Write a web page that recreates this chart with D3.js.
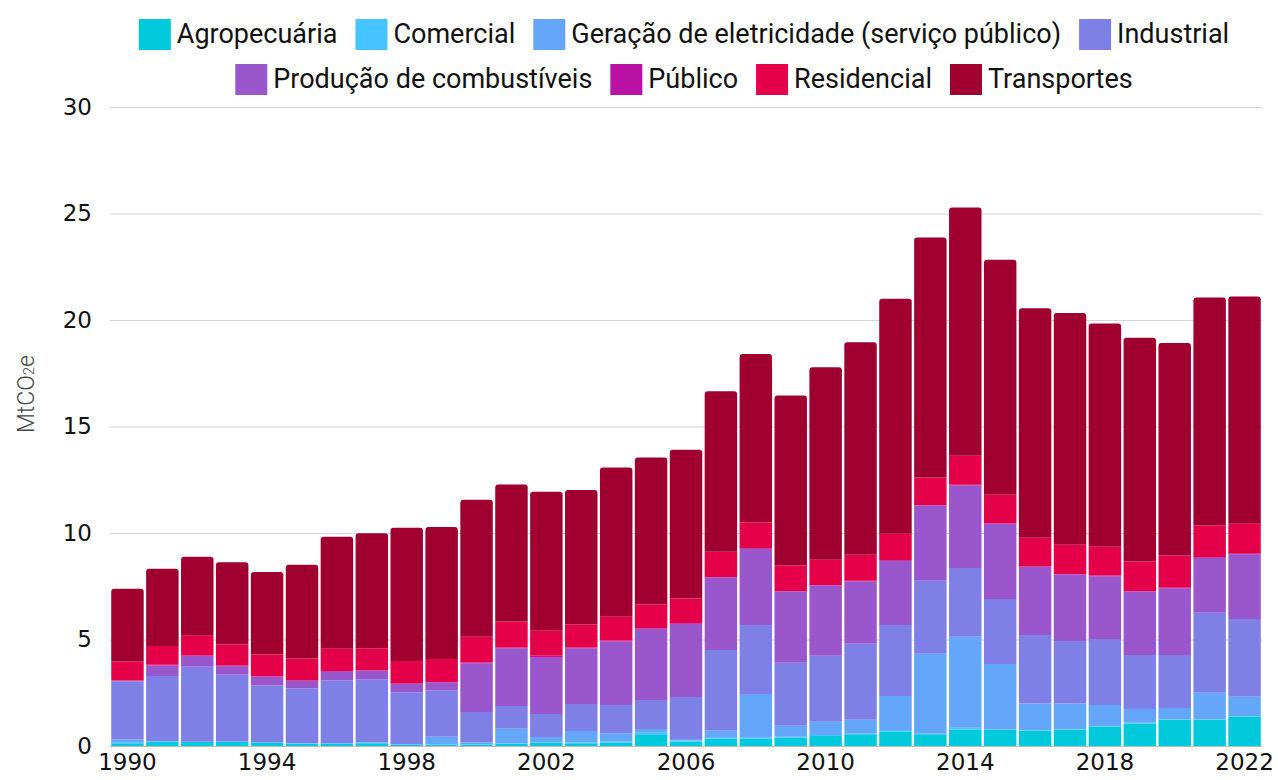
<!DOCTYPE html>
<html>
<head>
<meta charset="utf-8">
<script src="https://cdn.jsdelivr.net/npm/d3@7"></script>
<style>
  body { margin: 0; background: #fff; }
  svg { display: block; }
  .tick text { font-family: "DejaVu Sans", sans-serif; font-size: 23px; fill: #111; }
  .legend text { font-family: "Roboto", sans-serif; font-size: 27px; fill: #111; }
</style>
</head>
<body>
<svg id="chart" width="1278" height="780"></svg>
<script>
// values, MtCO2e
var years = [1990, 1991, 1992, 1993, 1994, 1995, 1996, 1997, 1998, 1999,
    2000, 2001, 2002, 2003, 2004, 2005, 2006, 2007, 2008, 2009,
    2010, 2011, 2012, 2013, 2014, 2015, 2016, 2017, 2018, 2019,
    2020, 2021, 2022];

var tickYears = [1990, 1994, 1998, 2002, 2006, 2010, 2014, 2018, 2022];
var yTicks = [0, 5, 10, 15, 20, 25, 30];

var sectors = ["Agropecuária", "Comercial", "Geração de eletricidade (serviço público)",
    "Industrial", "Produção de combustíveis", "Público", "Residencial", "Transportes"];
var colors = ["#00c9dc", "#45c4ff", "#64a6f8", "#7f80e6", "#9a57cc", "#ba12a4", "#e5004a", "#a00030"];

var agropecuaria = [0.13, 0.20, 0.19, 0.20, 0.14, 0.11, 0.09, 0.13, 0.05, 0.05,
    0.06, 0.09, 0.14, 0.13, 0.16, 0.52, 0.20, 0.34, 0.34, 0.39,
    0.47, 0.52, 0.67, 0.52, 0.78, 0.75, 0.72, 0.77, 0.91, 1.06,
    1.23, 1.23, 1.38];
var comercial = [0.02, 0.01, 0.01, 0.01, 0.02, 0.02, 0.04, 0.03, 0.02, 0.02,
    0.03, 0.03, 0.03, 0.03, 0.05, 0.10, 0.06, 0.05, 0.05, 0.05,
    0.05, 0.07, 0.08, 0.07, 0.08, 0.03, 0.02, 0.02, 0.02, 0.03,
    0.03, 0.03, 0.03];
var geracao = [0.15, 0.02, 0.00, 0.00, 0.00, 0.00, 0.00, 0.00, 0.00, 0.37,
    0.07, 0.69, 0.25, 0.54, 0.39, 0.18, 0.07, 0.33, 2.05, 0.51,
    0.62, 0.64, 1.60, 3.74, 4.27, 3.07, 1.26, 1.21, 0.99, 0.65,
    0.52, 1.24, 0.90];
var industrial = [2.74, 3.06, 3.52, 3.13, 2.68, 2.57, 2.96, 2.97, 2.45, 2.16,
    1.44, 1.07, 1.08, 1.27, 1.32, 1.36, 1.97, 3.79, 3.24, 2.96,
    3.10, 3.57, 3.33, 3.43, 3.23, 3.05, 3.21, 2.93, 3.10, 2.53,
    2.49, 3.76, 3.65];
var producao = [0.02, 0.49, 0.50, 0.41, 0.41, 0.35, 0.40, 0.40, 0.39, 0.38,
    2.29, 2.71, 2.64, 2.62, 2.99, 3.33, 3.43, 3.40, 3.57, 3.34,
    3.29, 2.93, 3.01, 3.53, 3.87, 3.53, 3.19, 3.12, 2.95, 2.98,
    3.13, 2.57, 3.04];
var publico = [0.02, 0.03, 0.03, 0.03, 0.03, 0.03, 0.03, 0.03, 0.03, 0.03,
    0.03, 0.04, 0.10, 0.04, 0.04, 0.03, 0.03, 0.03, 0.03, 0.03,
    0.03, 0.03, 0.03, 0.03, 0.03, 0.03, 0.03, 0.03, 0.03, 0.03,
    0.03, 0.03, 0.03];
var residencial = [0.89, 0.89, 0.93, 0.98, 1.02, 1.03, 1.04, 1.03, 1.05, 1.08,
    1.21, 1.21, 1.17, 1.07, 1.12, 1.12, 1.17, 1.18, 1.21, 1.19,
    1.19, 1.22, 1.25, 1.28, 1.37, 1.34, 1.35, 1.37, 1.36, 1.38,
    1.51, 1.49, 1.41];
var transportes = [3.41, 3.62, 3.71, 3.87, 3.87, 4.40, 5.26, 5.40, 6.26, 6.19,
    6.43, 6.44, 6.53, 6.32, 7.00, 6.90, 6.98, 7.53, 7.91, 7.98,
    9.03, 9.97, 11.03, 11.27, 11.65, 11.03, 10.77, 10.88, 10.48, 10.51,
    9.98, 10.71, 10.66];

var seriesValues = [agropecuaria, comercial, geracao, industrial, producao, publico, residencial, transportes];

var rows = years.map(function(yr, i) {
    var r = {year: yr};
    sectors.forEach(function(s, k) { r[s] = seriesValues[k][i]; });
    return r;
});

var svg = d3.select("#chart"),
    margins = {"left": 110, "right": 16, "top": 107, "bottom": 34},
    width = 1278, height = 780;

var x = d3.scaleBand().domain(years)
        .range([margins.left, width - margins.right])
        .paddingInner(0.07).paddingOuter(0.035),
    y = d3.scaleLinear().domain([0, 30]).range([height - margins.bottom, margins.top]),
    color = d3.scaleOrdinal().domain(sectors).range(colors);

// grid + y labels
var yAxis = svg.append("g").attr("transform", "translate(" + [margins.left, 0] + ")")
    .call(d3.axisLeft(y).tickValues(yTicks).tickSize(-(width - margins.right - margins.left)).tickPadding(18));
yAxis.select(".domain").remove();
yAxis.selectAll(".tick line").attr("stroke", d => d === 0 ? "#bdbdbd" : "#d4d4d4").attr("stroke-width", 1);

svg.append("text")
    .attr("transform", "translate(26,394) rotate(-90)")
    .attr("text-anchor", "middle")
    .attr("dy", "0.35em")
    .style("font-family", "Roboto, sans-serif").style("font-size", "23px").style("fill", "#444")
    .style("font-weight", 300)
    .html("MtCO<tspan font-size='15px'>2</tspan>e");

// bars
var stack = d3.stack().keys(sectors);
var layers = stack(rows);

function topRounded(x0, y0, w, h, r) {
    r = Math.min(r, h);
    return "M" + x0 + "," + (y0 + h) + "V" + (y0 + r) + "Q" + x0 + "," + y0 + " " + (x0 + r) + "," + y0 +
        "H" + (x0 + w - r) + "Q" + (x0 + w) + "," + y0 + " " + (x0 + w) + "," + (y0 + r) + "V" + (y0 + h) + "Z";
}

var bars = svg.append("g");
layers.forEach(function(layer, k) {
    var isTop = k === layers.length - 1;
    bars.append("g").attr("fill", color(layer.key))
        .selectAll("path").data(layer).enter().append("path")
        .attr("d", d => {
            var x0 = x(d.data.year), w = x.bandwidth(),
                y0 = y(d[1]), h = y(d[0]) - y(d[1]);
            return isTop ? topRounded(x0, y0, w, h, 3) :
                "M" + x0 + "," + y0 + "h" + w + "v" + h + "h" + (-w) + "Z";
        });
});

// x labels
var xAxis = svg.append("g").attr("transform", "translate(" + [0, height - margins.bottom] + ")")
    .call(d3.axisBottom(x).tickValues(tickYears).tickSize(0).tickPadding(6));
xAxis.select(".domain").remove();
xAxis.selectAll(".tick text").attr("dy", "0.8em");

// legend, two centred rows
var legendRows = [[0, 1, 2, 3], [4, 5, 6, 7]],
    rowY = [34, 79], sw = 32, gap = 6, itemGap = 18, cx = 684;

var legend = svg.append("g").classed("legend", true);
legendRows.forEach(function(idxs, r) {
    var g = legend.append("g");
    var xpos = 0;
    idxs.forEach(function(k) {
        var item = g.append("g").attr("transform", "translate(" + xpos + ",0)");
        item.append("rect").attr("x", 0).attr("y", rowY[r] - 15).attr("width", sw).attr("height", 31)
            .attr("fill", colors[k]);
        var t = item.append("text").attr("x", sw + gap).attr("y", rowY[r]).attr("dy", "0.35em").text(sectors[k]);
        xpos += sw + gap + t.node().getComputedTextLength() + itemGap;
    });
    xpos -= itemGap;
    g.attr("transform", "translate(" + (cx - xpos / 2) + ",0)");
});
</script>
</body>
</html>
